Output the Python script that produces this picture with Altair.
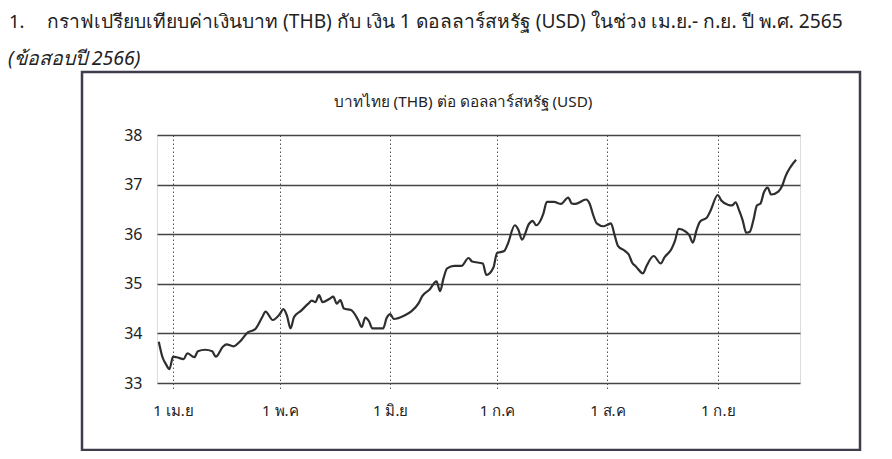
import altair as alt
import pandas as pd

# ---- data ----
dates = [
    "2022-03-28", "2022-03-29", "2022-03-30", "2022-03-31", "2022-04-01", "2022-04-02",
    "2022-04-04", "2022-04-05", "2022-04-07", "2022-04-08", "2022-04-10", "2022-04-12",
    "2022-04-13", "2022-04-15", "2022-04-16", "2022-04-18", "2022-04-20", "2022-04-22",
    "2022-04-24", "2022-04-26", "2022-04-27", "2022-04-29", "2022-05-01", "2022-05-02",
    "2022-05-03", "2022-05-04", "2022-05-05", "2022-05-07", "2022-05-09", "2022-05-10",
    "2022-05-11", "2022-05-12", "2022-05-13", "2022-05-15", "2022-05-16", "2022-05-17",
    "2022-05-18", "2022-05-19", "2022-05-21", "2022-05-23", "2022-05-24", "2022-05-25",
    "2022-05-26", "2022-05-27", "2022-05-30", "2022-05-31", "2022-06-01", "2022-06-02",
    "2022-06-05", "2022-06-07", "2022-06-09", "2022-06-10", "2022-06-12", "2022-06-14",
    "2022-06-15", "2022-06-16", "2022-06-17", "2022-06-19", "2022-06-21", "2022-06-23",
    "2022-06-24", "2022-06-27", "2022-06-28", "2022-06-30", "2022-07-01", "2022-07-03",
    "2022-07-04", "2022-07-06", "2022-07-07", "2022-07-08", "2022-07-10", "2022-07-11",
    "2022-07-12", "2022-07-14", "2022-07-15", "2022-07-17", "2022-07-19", "2022-07-21",
    "2022-07-22", "2022-07-23", "2022-07-26", "2022-07-27", "2022-07-28", "2022-07-29",
    "2022-07-31", "2022-08-01", "2022-08-02", "2022-08-03", "2022-08-04", "2022-08-06",
    "2022-08-07", "2022-08-08", "2022-08-09", "2022-08-11", "2022-08-12", "2022-08-14",
    "2022-08-16", "2022-08-17", "2022-08-19", "2022-08-20", "2022-08-21", "2022-08-23",
    "2022-08-24", "2022-08-25", "2022-08-26", "2022-08-27", "2022-08-29", "2022-08-30",
    "2022-09-01", "2022-09-02", "2022-09-04", "2022-09-05", "2022-09-06", "2022-09-07",
    "2022-09-08", "2022-09-09", "2022-09-10", "2022-09-11", "2022-09-12", "2022-09-13",
    "2022-09-14", "2022-09-15", "2022-09-16", "2022-09-18", "2022-09-19", "2022-09-20",
    "2022-09-23",
]
thb_per_usd = [
    33.83, 33.53, 33.38, 33.28, 33.53, 33.52,
    33.48, 33.60, 33.52, 33.64, 33.67, 33.64,
    33.53, 33.73, 33.78, 33.74, 33.85, 34.02,
    34.08, 34.32, 34.44, 34.27, 34.39, 34.49,
    34.36, 34.10, 34.33, 34.46, 34.60, 34.66,
    34.63, 34.77, 34.63, 34.70, 34.74, 34.60,
    34.67, 34.50, 34.47, 34.27, 34.13, 34.32,
    34.25, 34.10, 34.10, 34.31, 34.39, 34.29,
    34.36, 34.45, 34.61, 34.75, 34.88, 35.05,
    34.85, 35.12, 35.31, 35.36, 35.36, 35.52,
    35.45, 35.41, 35.18, 35.33, 35.62, 35.66,
    35.80, 36.18, 36.09, 35.89, 36.21, 36.27,
    36.18, 36.41, 36.65, 36.65, 36.61, 36.74,
    36.62, 36.61, 36.70, 36.62, 36.39, 36.22,
    36.16, 36.19, 36.22, 35.99, 35.76, 35.66,
    35.59, 35.42, 35.35, 35.21, 35.36, 35.56,
    35.41, 35.53, 35.70, 35.87, 36.11, 36.05,
    35.98, 35.83, 36.07, 36.25, 36.34, 36.48,
    36.79, 36.68, 36.59, 36.58, 36.64, 36.48,
    36.28, 36.03, 36.05, 36.28, 36.58, 36.62,
    36.85, 36.94, 36.80, 36.86, 36.96, 37.16,
    37.50,
]
month_starts = ["2022-04-01", "2022-05-01", "2022-06-01", "2022-07-01", "2022-08-01", "2022-09-01"]
month_labels = ["1 เม.ย", "1 พ.ค", "1 มิ.ย", "1 ก.ค", "1 ส.ค", "1 ก.ย"]
y_ticks = [33, 34, 35, 36, 37, 38]

question_no = "1."
question_text = "กราฟเปรียบเทียบค่าเงินบาท (THB) กับ เงิน 1 ดอลลาร์สหรัฐ (USD) ในช่วง เม.ย.- ก.ย. ปี พ.ศ. 2565"
exam_note = "(ข้อสอบปี 2566)"
chart_title = "บาทไทย (THB) ต่อ ดอลลาร์สหรัฐ (USD)"

# ---- derived table ----
origin = pd.Timestamp("2022-04-01")
day = [(pd.Timestamp(d) - origin).days for d in dates]
tick_days = [(pd.Timestamp(d) - origin).days for d in month_starts]
df = pd.DataFrame({"day": day, "rate": thb_per_usd})

label_arr = "[" + ",".join(f"'{l}'" for l in month_labels) + "]"
day_arr = "[" + ",".join(str(d) for d in tick_days) + "]"
label_expr = f"{label_arr}[indexof({day_arr}, datum.value)]"

FONT = "Noto Sans"
W, H = 643, 248

x_enc = alt.X(
    "day:Q",
    scale=alt.Scale(domain=[-4.5, 176.1], nice=False, zero=False),
    axis=alt.Axis(
        values=tick_days, labelExpr=label_expr, title=None,
        grid=True, gridDash=[1.5, 2.5], gridColor="#555555", gridWidth=1,
        domain=False, ticks=True, tickDash=[1.5, 2.5], tickColor="#555555",
        tickSize=6, labelPadding=14, labelFontSize=15, labelColor="#222222",
        labelFont=FONT,
    ),
)
y_enc = alt.Y(
    "rate:Q",
    scale=alt.Scale(domain=[33, 38], nice=False, zero=False),
    axis=alt.Axis(
        values=y_ticks, title=None, grid=True, gridColor="#444444", gridWidth=1.6,
        domain=False, ticks=False, labelPadding=15, labelFontSize=16,
        labelColor="#222222", labelFont=FONT,
    ),
)

line = alt.Chart(df).mark_line(
    color="#2e2e2e", strokeWidth=2.2, interpolate="monotone"
).encode(x=x_enc, y=y_enc)

one = pd.DataFrame({"k": [0]})

frame = alt.Chart(one).mark_rect(
    fillOpacity=0, stroke="#3d3d4d", strokeWidth=2.5
).encode(x=alt.value(-75), x2=alt.value(703), y=alt.value(-63), y2=alt.value(315))

def label(text, x, y, size, align="left", style="normal", color="#222222"):
    return alt.Chart(one).mark_text(
        align=align, baseline="alphabetic", fontSize=size, font=FONT,
        fontStyle=style, color=color,
    ).encode(x=alt.value(x), y=alt.value(y), text=alt.value(text))

t_no = label(question_no, -148, -107, 18.5)
t_q = label(question_text, -110, -107, 19.2)
t_note = label(exam_note, -149, -70, 19.5, style="italic")
t_title = label(chart_title, 306, -28, 15.3, align="center")

chart = alt.layer(frame, line, t_no, t_q, t_note, t_title).properties(
    width=W, height=H,
    autosize=alt.AutoSizeParams(type="none"),
    padding={"left": 149, "top": 127, "right": 84, "bottom": 68},
).configure_view(stroke=None).configure(background="white")

chart.save("out.html", embed_options={"renderer": "svg", "actions": False})
